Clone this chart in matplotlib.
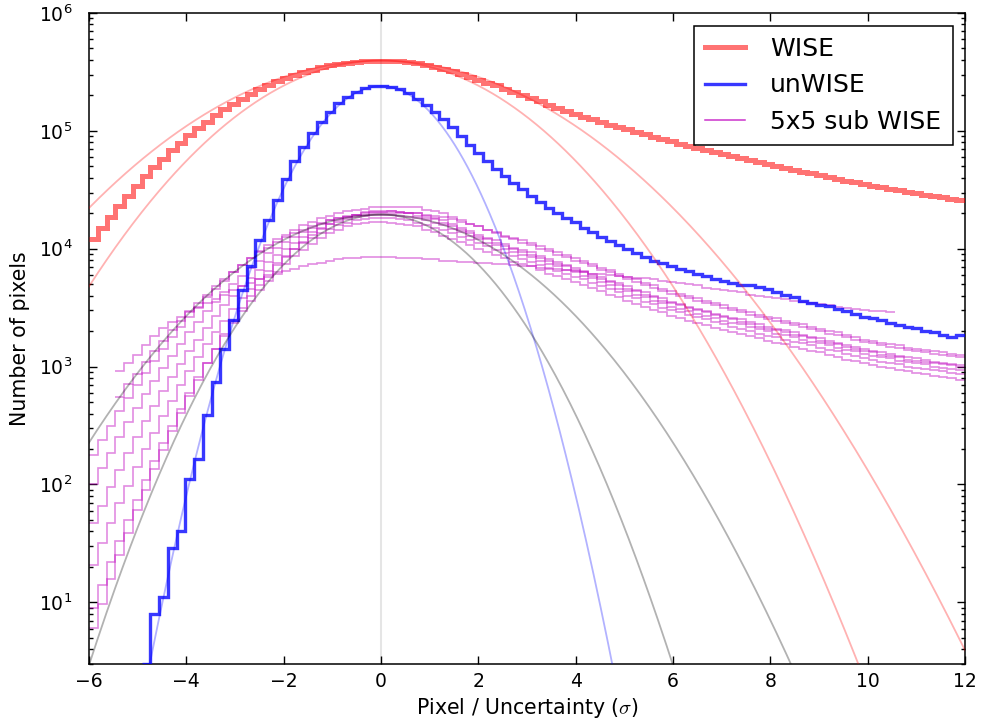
import numpy as np
import matplotlib
matplotlib.use('Agg')
import matplotlib.pyplot as plt
from matplotlib.lines import Line2D
from matplotlib.ticker import LogLocator, LogFormatterMathtext, MultipleLocator, NullFormatter

nan = np.nan

# histogram binning used for every series
hist_range = (-6.0, 12.0)
n_bins = 100

# WISE full image, counts per bin
wise_counts = [
    12000, 15000, 18600, 22900, 28200, 34300, 41200, 49000, 58200, 68400,
    79400, 92300, 106000, 120000, 136000, 153000, 170000, 188000, 207000, 226000,
    245000, 263000, 282000, 298000, 316000, 331000, 347000, 359000, 370000, 378000,
    385000, 391000, 394000, 394000, 393000, 388000, 382000, 373000, 363000, 351000,
    337000, 324000, 305000, 288000, 272000, 257000, 243000, 228000, 214000, 201000,
    189000, 178000, 167000, 157000, 147000, 138000, 131000, 125000, 119000, 113000,
    108000, 103000, 97700, 93300, 89100, 85100, 81300, 77600, 74600, 71800,
    68900, 66100, 63400, 61000, 58600, 56200, 54100, 52000, 50100, 48300,
    46600, 45000, 43500, 42000, 40600, 39200, 37800, 36600, 35500, 34400,
    33400, 32400, 31500, 30500, 29600, 28800, 28100, 27300, 26500, 25800,
]

# unWISE coadd, counts per bin (nan = empty bin)
unwise_counts = [
    nan, nan, nan, nan, nan, nan, 3, 8, 11, 29,
    40, 112, 165, 387, 736, 1420, 2470, 4430, 7180, 11900,
    17600, 26000, 39000, 55000, 73000, 96000, 119000, 145000, 173000, 194000,
    214000, 231000, 240000, 242000, 237000, 225000, 208000, 187000, 167000, 146000,
    125000, 107000, 90200, 76200, 65300, 55600, 47600, 41300, 36100, 32000,
    28000, 25000, 22300, 20200, 18400, 16700, 15100, 13800, 12600, 11600,
    10700, 9890, 9120, 8510, 7940, 7500, 7160, 6760, 6460, 6100,
    5820, 5560, 5310, 5130, 4950, 4900, 4730, 4520, 4270, 4070,
    3890, 3630, 3470, 3350, 3240, 3090, 2950, 2820, 2660, 2570,
    2480, 2340, 2260, 2160, 2110, 2000, 1950, 1860, 1800, 1840,
]

# 5x5 sub-images of WISE, log10(counts) per bin
sub_a = [
    2.25, 2.38, 2.50, 2.62, 2.73, 2.84, 2.95, 3.05, 3.15, 3.25,
    3.34, 3.42, 3.51, 3.59, 3.66, 3.73, 3.80, 3.86, 3.92, 3.98,
    4.03, 4.08, 4.12, 4.16, 4.20, 4.23, 4.26, 4.28, 4.30, 4.32,
    4.33, 4.34, 4.35, 4.35, 4.35, 4.35, 4.35, 4.35, 4.33, 4.32,
    4.30, 4.27, 4.24, 4.21, 4.19, 4.16, 4.13, 4.10, 4.08, 4.05,
    4.03, 4.00, 3.98, 3.95, 3.93, 3.90, 3.88, 3.85, 3.82, 3.80,
    3.77, 3.74, 3.72, 3.69, 3.67, 3.64, 3.62, 3.60, 3.58, 3.56,
    3.54, 3.52, 3.50, 3.48, 3.46, 3.44, 3.42, 3.40, 3.39, 3.37,
    3.35, 3.34, 3.32, 3.30, 3.28, 3.27, 3.25, 3.23, 3.21, 3.20,
    3.18, 3.17, 3.16, 3.14, 3.13, 3.12, 3.11, 3.10, 3.09, 3.08,
]
sub_b = [
    2.00, 2.14, 2.27, 2.40, 2.53, 2.65, 2.77, 2.88, 2.99, 3.09,
    3.19, 3.29, 3.38, 3.47, 3.55, 3.63, 3.70, 3.77, 3.84, 3.90,
    3.96, 4.01, 4.06, 4.10, 4.14, 4.18, 4.21, 4.24, 4.26, 4.28,
    4.29, 4.30, 4.31, 4.31, 4.32, 4.31, 4.30, 4.30, 4.28, 4.26,
    4.24, 4.21, 4.18, 4.15, 4.12, 4.09, 4.07, 4.04, 4.01, 3.99,
    3.97, 3.94, 3.91, 3.89, 3.86, 3.84, 3.81, 3.79, 3.76, 3.73,
    3.71, 3.68, 3.65, 3.63, 3.60, 3.58, 3.55, 3.53, 3.51, 3.49,
    3.47, 3.45, 3.43, 3.41, 3.40, 3.38, 3.36, 3.34, 3.32, 3.31,
    3.29, 3.27, 3.25, 3.24, 3.22, 3.20, 3.18, 3.17, 3.15, 3.13,
    3.12, 3.11, 3.09, 3.08, 3.07, 3.06, 3.04, 3.03, 3.02, 3.01,
]
sub_c = [
    1.67, 1.82, 1.98, 2.12, 2.27, 2.40, 2.54, 2.67, 2.79, 2.91,
    3.02, 3.13, 3.23, 3.33, 3.43, 3.52, 3.60, 3.68, 3.75, 3.82,
    3.89, 3.95, 4.00, 4.05, 4.10, 4.14, 4.18, 4.21, 4.23, 4.25,
    4.27, 4.28, 4.29, 4.29, 4.29, 4.28, 4.27, 4.26, 4.24, 4.22,
    4.20, 4.17, 4.14, 4.11, 4.08, 4.05, 4.03, 4.00, 3.97, 3.95,
    3.93, 3.90, 3.87, 3.85, 3.82, 3.80, 3.77, 3.75, 3.72, 3.69,
    3.66, 3.64, 3.61, 3.59, 3.56, 3.54, 3.51, 3.49, 3.47, 3.45,
    3.43, 3.41, 3.39, 3.37, 3.36, 3.34, 3.32, 3.30, 3.28, 3.27,
    3.25, 3.23, 3.21, 3.20, 3.18, 3.16, 3.14, 3.13, 3.11, 3.09,
    3.08, 3.07, 3.05, 3.04, 3.03, 3.02, 3.00, 2.99, 2.98, 2.97,
]
sub_d = [
    1.32, 1.50, 1.67, 1.84, 1.99, 2.15, 2.30, 2.44, 2.58, 2.71,
    2.84, 2.96, 3.08, 3.19, 3.29, 3.39, 3.49, 3.58, 3.66, 3.74,
    3.81, 3.88, 3.94, 4.00, 4.05, 4.09, 4.13, 4.17, 4.20, 4.22,
    4.24, 4.25, 4.26, 4.26, 4.26, 4.25, 4.24, 4.22, 4.20, 4.18,
    4.16, 4.13, 4.10, 4.07, 4.05, 4.02, 3.99, 3.96, 3.94, 3.91,
    3.89, 3.86, 3.84, 3.81, 3.79, 3.76, 3.74, 3.71, 3.68, 3.66,
    3.63, 3.60, 3.58, 3.55, 3.53, 3.50, 3.48, 3.46, 3.44, 3.42,
    3.40, 3.38, 3.36, 3.34, 3.32, 3.30, 3.28, 3.26, 3.25, 3.23,
    3.21, 3.20, 3.18, 3.16, 3.14, 3.13, 3.11, 3.09, 3.07, 3.06,
    3.04, 3.03, 3.02, 3.00, 2.99, 2.98, 2.97, 2.96, 2.95, 2.94,
]
sub_e = [
    0.95, 1.15, 1.34, 1.52, 1.70, 1.87, 2.04, 2.20, 2.35, 2.50,
    2.64, 2.78, 2.91, 3.03, 3.15, 3.26, 3.37, 3.47, 3.56, 3.65,
    3.73, 3.80, 3.87, 3.94, 3.99, 4.04, 4.09, 4.13, 4.16, 4.19,
    4.21, 4.22, 4.23, 4.23, 4.22, 4.21, 4.20, 4.19, 4.16, 4.14,
    4.11, 4.08, 4.06, 4.03, 4.00, 3.97, 3.95, 3.92, 3.89, 3.87,
    3.85, 3.82, 3.79, 3.77, 3.74, 3.72, 3.69, 3.67, 3.64, 3.61,
    3.59, 3.56, 3.53, 3.51, 3.48, 3.46, 3.43, 3.41, 3.39, 3.37,
    3.35, 3.33, 3.31, 3.29, 3.28, 3.26, 3.24, 3.22, 3.20, 3.19,
    3.17, 3.15, 3.13, 3.12, 3.10, 3.08, 3.06, 3.05, 3.03, 3.01,
    3.00, 2.99, 2.97, 2.96, 2.95, 2.94, 2.92, 2.91, 2.90, 2.89,
]
sub_f = [
    0.78, 0.99, 1.20, 1.40, 1.59, 1.78, 1.95, 2.13, 2.29, 2.45,
    2.61, 2.75, 2.89, 3.03, 3.15, 3.28, 3.39, 3.50, 3.60, 3.69,
    3.78, 3.86, 3.93, 4.00, 4.06, 4.12, 4.17, 4.21, 4.24, 4.27,
    4.29, 4.31, 4.32, 4.32, 4.32, 4.31, 4.30, 4.28, 4.26, 4.25,
    4.22, 4.19, 4.16, 4.13, 4.10, 4.08, 4.05, 4.02, 4.00, 3.97,
    3.95, 3.92, 3.90, 3.87, 3.85, 3.82, 3.80, 3.77, 3.74, 3.72,
    3.69, 3.66, 3.64, 3.61, 3.59, 3.56, 3.54, 3.52, 3.50, 3.48,
    3.46, 3.44, 3.42, 3.40, 3.38, 3.36, 3.34, 3.32, 3.31, 3.29,
    3.27, 3.26, 3.24, 3.22, 3.20, 3.19, 3.17, 3.15, 3.13, 3.12,
    3.10, 3.09, 3.08, 3.06, 3.05, 3.04, 3.03, 3.02, 3.01, 3.00,
]
sub_g = [
    nan, nan, nan, 2.96, 3.03, 3.10, 3.18, 3.26, 3.33, 3.38,
    3.42, 3.46, 3.50, 3.54, 3.57, 3.61, 3.65, 3.68, 3.71, 3.74,
    3.76, 3.79, 3.81, 3.83, 3.85, 3.87, 3.88, 3.90, 3.91, 3.92,
    3.92, 3.93, 3.93, 3.93, 3.93, 3.92, 3.92, 3.92, 3.91, 3.91,
    3.90, 3.90, 3.89, 3.89, 3.88, 3.88, 3.87, 3.87, 3.86, 3.85,
    3.85, 3.84, 3.83, 3.83, 3.82, 3.81, 3.80, 3.79, 3.79, 3.78,
    3.77, 3.76, 3.75, 3.75, 3.74, 3.73, 3.72, 3.71, 3.70, 3.69,
    3.67, 3.66, 3.65, 3.64, 3.63, 3.61, 3.60, 3.59, 3.58, 3.57,
    3.56, 3.55, 3.54, 3.53, 3.52, 3.51, 3.50, 3.49, 3.48, 3.47,
    3.47, 3.46, nan, nan, nan, nan, nan, nan, nan, nan,
]
sub_h = [
    nan, nan, nan, 2.74, 2.85, 2.94, 3.04, 3.13, 3.22, 3.31,
    3.39, 3.47, 3.54, 3.61, 3.68, 3.74, 3.80, 3.86, 3.92, 3.97,
    4.01, 4.06, 4.10, 4.13, 4.16, 4.19, 4.22, 4.24, 4.26, 4.27,
    4.29, 4.29, 4.30, 4.30, 4.30, 4.30, 4.30, 4.30, 4.29, 4.28,
    4.27, 4.25, 4.23, 4.21, 4.19, 4.16, 4.14, 4.11, 4.09, 4.07,
    4.05, 4.02, 4.00, 3.97, 3.95, 3.92, 3.90, 3.87, 3.84, 3.82,
    3.79, 3.76, 3.74, 3.71, 3.69, 3.66, 3.64, 3.62, 3.60, 3.58,
    3.56, 3.54, 3.52, 3.50, 3.48, 3.46, 3.44, 3.42, 3.41, 3.39,
    3.37, 3.36, 3.34, 3.32, 3.30, 3.29, 3.27, 3.25, 3.23, 3.22,
    3.20, 3.19, 3.18, 3.16, 3.15, 3.14, 3.13, 3.12, 3.11, 3.10,
]
sub_logs = [sub_a, sub_b, sub_c, sub_d, sub_e, sub_f, sub_g, sub_h]

# gaussian fits: (peak counts, sigma)
wise_fits = [(395000, 2.5), (395000, 2.02)]
unwise_fits = [(240000, 1.0)]
sub_fits = [(19500, 2.01), (19500, 1.43)]

labels = ['WISE', 'unWISE', '5x5 sub WISE']


plt.rcParams['font.family'] = 'DejaVu Sans'
plt.rcParams['mathtext.fontset'] = 'cm'
plt.rcParams['xtick.direction'] = 'in'
plt.rcParams['ytick.direction'] = 'in'

fig = plt.figure(figsize=(9.83, 7.27), dpi=100)
ax = fig.add_axes([89 / 983, 1 - 664 / 727, (965 - 89) / 983, (664 - 13) / 727])

edges = np.linspace(hist_range[0], hist_range[1], n_bins + 1)
xs = np.linspace(hist_range[0], hist_range[1], 600)

ax.axvline(0, color='k', alpha=0.1, lw=1.5, zorder=0)

ax.stairs(np.array(wise_counts, dtype=float), edges, baseline=None,
          color='r', alpha=0.55, lw=3.6, zorder=3)
ax.stairs(np.array(unwise_counts, dtype=float), edges, baseline=None,
          color='b', alpha=0.78, lw=2.4, zorder=4)
for s in sub_logs:
    ax.stairs(10 ** np.array(s, dtype=float), edges, baseline=None,
              color='m', alpha=0.45, lw=1.2, zorder=2)

for amp, sig in wise_fits:
    ax.plot(xs, amp * np.exp(-xs ** 2 / (2 * sig ** 2)), color='r', alpha=0.3, lw=1.3, zorder=5)
for amp, sig in unwise_fits:
    ax.plot(xs, amp * np.exp(-xs ** 2 / (2 * sig ** 2)), color='b', alpha=0.3, lw=1.3, zorder=5)
for amp, sig in sub_fits:
    ax.plot(xs, amp * np.exp(-xs ** 2 / (2 * sig ** 2)), color='k', alpha=0.3, lw=1.3, zorder=5)

ax.set_yscale('log')
ax.set_xlim(hist_range)
ax.set_ylim(3, 1e6)

ax.xaxis.set_major_locator(MultipleLocator(2))
ax.yaxis.set_major_locator(LogLocator(base=10))
ax.yaxis.set_major_formatter(LogFormatterMathtext())
ax.yaxis.set_minor_locator(LogLocator(base=10, subs=np.arange(2, 10)))
ax.yaxis.set_minor_formatter(NullFormatter())
ax.tick_params(which='both', top=True, right=True, labelsize=13.5)
ax.tick_params(which='major', length=5.5, width=1)
ax.tick_params(which='minor', length=2.7, width=1)
ax.tick_params(axis='x', which='major', pad=6)
ax.tick_params(axis='y', which='major', pad=12)
for sp in ax.spines.values():
    sp.set_linewidth(1.1)

ax.set_xlabel(r'Pixel / Uncertainty ($\sigma$)', fontsize=14.8, labelpad=3)
ax.set_ylabel('Number of pixels', fontsize=14.8, labelpad=6)

handles = [Line2D([], [], color='r', alpha=0.55, lw=3.6),
           Line2D([], [], color='b', alpha=0.78, lw=2.4),
           Line2D([], [], color='m', alpha=0.8, lw=1.1)]
leg = ax.legend(handles, labels, loc='upper right', fontsize=18, fancybox=False,
                framealpha=1, edgecolor='k', handlelength=1.6, handletextpad=1.0,
                borderpad=0.45, labelspacing=0.5, borderaxespad=0.5)
leg.get_frame().set_linewidth(1.1)

fig.savefig('out.png', dpi=100, facecolor='white')
